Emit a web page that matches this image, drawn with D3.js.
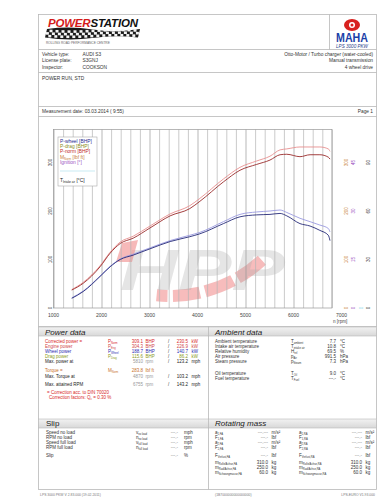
<!DOCTYPE html>
<html>
<head>
<meta charset="utf-8">
<script src="https://cdn.jsdelivr.net/npm/d3@7"></script>
<style>
  html, body { margin: 0; padding: 0; background: #fff; }
  svg { display: block; font-family: "Liberation Sans", Arial, sans-serif; }
</style>
</head>
<body>
<svg id="sheet" width="387" height="500"></svg>
<script>
// dyno curves
const rpm      = [1380, 1620, 1970, 2180, 2390, 2660, 3010, 3430, 3840, 4050, 4540, 4885, 5230, 5510, 5720, 5860, 6135, 6345, 6550, 6725, 6760];
const pNorm    = [38, 53, 87, 115, 136, 148, 169, 194, 211, 226, 266, 290, 303, 313, 326, 328, 332, 332, 332, 328, 323];
const pMot     = [37, 51, 85, 113, 133, 144, 165, 190, 205, 220, 260, 284, 296, 305, 316, 317, 312, 316, 316, 311, 307];
const pWheel2  = [21, 35, 66, 86, 101, 111, 124, 139, 150, 156, 178, 193, 198, 200, 202, 197, 185, 178, 171, 164, 157];
const pWheel   = [20, 34, 65, 85, 100, 109, 122, 137, 147, 153, 174, 188, 192, 193, 195, 190, 174, 169, 160, 150, 139];

const xTicks = [1000, 2000, 3000, 4000, 5000, 6000, 7000];
const yTicks = [0, 100, 200, 300];
const rightAxes = [
  { color: "#c8803a", labels: ["0", "100", "200", "300"] },
  { color: "#9a50c0", labels: ["0", "15", "30", "45"] },
  { color: "#8ad8e8", labels: ["0", "", "", ""] },
  { color: "#333", labels: ["0", "30", "60", "90"] }
];
const legendItems = [
  { text: "P-wheel [BHP]", color: "#2a2a90" },
  { text: "P-drag [BHP]", color: "#8a8a20" },
  { text: "P-norm [BHP]", color: "#c02828" },
  { text: "M", sub: "Norm", tail: " [lbf ft]", color: "#c8803a" },
  { text: "Ignition [°]", color: "#9a50c0" },
  { text: "", color: "#a8e0ee" },
  { text: "T", sub: "Intake air", tail: " [°C]", color: "#222" }
];

const vehicleLeft = [["Vehicle type:", "AUDI S3"], ["License plate:", "S3GNJ"], ["Inspector:", "COOKSON"]];
const vehicleRight = ["Otto-Motor / Turbo charger (water-cooled)", "Manual transmission", "4 wheel drive"];

const powerRows = [
  { label: "Corrected power =", sym: "P", sub: "Norm", v1: "309.1", u1: "BHP", v2: "230.5", u2: "kW", color: "#d82828" },
  { label: "Engine power", sym: "P", sub: "Eng", v1: "304.3", u1: "BHP", v2: "226.9", u2: "kW", color: "#d04848" },
  { label: "Wheel power", sym: "P", sub: "Wheel", v1: "188.7", u1: "BHP", v2: "140.7", u2: "kW", color: "#2a2ab0" },
  { label: "Drag power", sym: "P", sub: "Drag", v1: "115.6", u1: "BHP", v2: "86.2", u2: "kW", color: "#8a9a20" },
  { label: "Max. power at", sym: "", sub: "", v1: "5810", u1: "rpm", v2: "123.2", u2: "mph", color: "#222", gray: true },
  { label: "Torque =", sym: "M", sub: "Norm", v1: "283.8", u1: "lbf ft", v2: "", u2: "", color: "#c8702a" },
  { label: "Max. Torque at", sym: "", sub: "", v1: "4870", u1: "rpm", v2: "103.2", u2: "mph", color: "#222", gray: true },
  { label: "Max. attained RPM", sym: "", sub: "", v1: "6755", u1: "rpm", v2: "143.2", u2: "mph", color: "#222", gray: true }
];
const powerRowY = [341, 346, 351, 356, 361, 370, 376, 384];
const correctionLines = ["= Correction acc. to DIN 70020", "Correction factors: Q", "c", " =   0.30 %"];

const ambientRows = [
  ["Ambient temperature", "T", "ambient", "7.7", "°C"],
  ["Intake air temperature", "T", "intake air", "10.8", "°C"],
  ["Relative humidity", "H", "rel", "69.5", "%"],
  ["Air pressure", "p", "Air", "991.5", "hPa"],
  ["Steam pressure", "p", "Steam", "7.3", "hPa"],
  ["Oil temperature", "T", "Oil", "9.0", "°C"],
  ["Fuel temperature", "T", "Fuel", "---.-", "°C"]
];
const ambientRowY = [341, 346, 351, 356, 361, 373, 378];

const slipRows = [
  ["Speed no load", "v", "no load", "---.-", "mph"],
  ["RPM no load", "n", "no load", "---.-", "rpm"],
  ["Speed full load", "v", "full load", "---.-", "mph"],
  ["RPM full load", "n", "full load", "---.-", "rpm"],
  ["Slip", "", "", "---.-", "%"]
];
const slipRowY = [432, 437, 442, 447, 455];

const rotLeft = [
  ["a", "1,FA", "---.---", "m/s²"], ["F", "1,FA", "---.-", "lbf"], ["a", "2,FA", "---.---", "m/s²"], ["F", "2,FA", "---.-", "lbf"],
  ["F", "Verlust,FA", "---.-", "lbf"], ["m", "Rolle/Achse,FA", "310.0", "kg"], ["m", "Rad/Achse,FA", "250.0", "kg"], ["m", "Schwungmasse,FA", "60.0", "kg"]
];
const rotRight = [
  ["a", "1,RA", "---.---", "m/s²"], ["F", "1,RA", "---.-", "lbf"], ["a", "2,RA", "---.---", "m/s²"], ["F", "2,RA", "---.-", "lbf"],
  ["F", "Verlust,RA", "---.-", "lbf"], ["m", "Rolle/Achse,RA", "310.0", "kg"], ["m", "Rad/Achse,RA", "250.0", "kg"], ["m", "Schwungmasse,RA", "60.0", "kg"]
];
const rotRowY = [432, 437, 442, 447, 455, 462.5, 467.5, 472.5];

const svg = d3.select("#sheet");
const FS = 4.5;
const LINE = "#b8b8b8";

function txt(g, x, y, s, opt = {}) {
  const t = g.append("text").attr("x", x).attr("y", y).attr("dy", "0.35em")
    .attr("font-size", opt.size || FS).attr("fill", opt.color || "#333")
    .attr("text-anchor", opt.anchor || "start");
  if (opt.italic) t.attr("font-style", "italic");
  if (opt.bold) t.attr("font-weight", "bold");
  t.text(s);
  return t;
}
function symTxt(g, x, y, s, sub, opt = {}) {
  const t = txt(g, x, y, s, opt);
  if (sub) t.append("tspan").attr("font-size", (opt.size || FS) * 0.6).attr("dy", "1").text(sub);
  return t;
}

// ---------- frame ----------
const frame = svg.append("g").attr("fill", "none").attr("stroke", LINE).attr("stroke-width", 0.8);
frame.append("rect").attr("x", 38.5).attr("y", 14.5).attr("width", 338).attr("height", 475);
[49.5, 72.5, 106.5, 116.5, 326.5].forEach(y => frame.append("line").attr("x1", 38.5).attr("x2", 376.5).attr("y1", y).attr("y2", y));
frame.append("line").attr("x1", 329.5).attr("x2", 329.5).attr("y1", 14.5).attr("y2", 49.5);

// section bands
const bandGrad = svg.append("defs").append("linearGradient").attr("id", "band").attr("x1", 0).attr("x2", 0).attr("y1", 0).attr("y2", 1);
bandGrad.append("stop").attr("offset", 0).attr("stop-color", "#f2f2f2");
bandGrad.append("stop").attr("offset", 1).attr("stop-color", "#d8d8d8");
[[38.5, 327, 170], [208.5, 327, 168], [38.5, 419, 170], [208.5, 419, 168]].forEach(([x, y, w]) => {
  svg.append("rect").attr("x", x).attr("y", y).attr("width", w).attr("height", 9)
    .attr("fill", "url(#band)").attr("stroke", LINE).attr("stroke-width", 0.6);
});
frame.append("line").attr("x1", 208.5).attr("x2", 208.5).attr("y1", 326.5).attr("y2", 489.5);

// ---------- header logos ----------
// chequered flag strip: dark band with light squares cut in
const flagG = svg.append("g");
flagG.append("path").attr("d", "M47,29 Q70,26 93,29.5 T140,29 L138,37.5 Q115,35 92,38 T45,37.5 Z").attr("fill", "#1a1a1a");
const flag = [];
for (let c = 0; c < 31; c++) {
  for (let r = 0; r < 3; r++) {
    if ((c + r) % 2 === 1) flag.push({ c, r });
  }
}
flagG.selectAll("rect").data(flag).join("rect")
  .attr("x", d => 46.5 + d.c * 3 - d.r * 0.6)
  .attr("y", d => 29.5 + d.r * 2.6 + Math.sin(d.c / 5) * 0.8)
  .attr("width", 3)
  .attr("height", 2.6)
  .attr("fill", "#f4f4f4");

const head = svg.append("g");
const pw = head.append("text").attr("x", 48).attr("y", 27).attr("font-size", 11.5)
  .attr("font-weight", "bold").attr("font-style", "italic").attr("textLength", 90);
pw.append("tspan").attr("fill", "#d41a1a").text("POWER");
pw.append("tspan").attr("fill", "#111").text("STATION");
txt(head, 46, 43, "ROLLING ROAD PERFORMANCE CENTRE", { size: 3.2, color: "#666" });
// MAHA mark
head.append("ellipse").attr("cx", 352).attr("cy", 25).attr("rx", 8).attr("ry", 6).attr("fill", "#d8201e");
head.append("circle").attr("cx", 352).attr("cy", 25).attr("r", 3).attr("fill", "#fff");
head.append("circle").attr("cx", 352).attr("cy", 25).attr("r", 1.5).attr("fill", "#d8201e");
head.append("text").attr("x", 352).attr("y", 42).attr("text-anchor", "middle").attr("font-size", 12)
  .attr("font-weight", "bold").attr("fill", "#1b3fa8").attr("textLength", 32).attr("lengthAdjust", "spacingAndGlyphs").text("MAHA");
txt(head, 352, 46.5, "LPS 3000 PKW", { size: 4.6, italic: true, anchor: "middle", color: "#2a3f8a" });

// vehicle info
vehicleLeft.forEach(([l, v], i) => {
  txt(svg, 42, 54 + i * 6.6, l, { size: 4.8 });
  txt(svg, 82.5, 54 + i * 6.6, v, { size: 4.8 });
});
vehicleRight.forEach((s, i) => txt(svg, 373, 54 + i * 6.6, s, { anchor: "end", size: 4.8 }));
txt(svg, 42, 78, "POWER RUN, STD", { size: 4.8 });
txt(svg, 42, 111.5, "Measurement date: 03.03.2014 ( 9:55)", { size: 4.8 });
txt(svg, 373, 111.5, "Page 1", { anchor: "end", size: 4.8 });

// ---------- chart ----------
const x = d3.scaleLinear().domain([1000, 7000]).range([53.5, 341.5]);
const y = d3.scaleLinear().domain([0, 300]).range([308, 162.5]);
const plotTop = 129.5, plotBottom = y(0), plotLeft = x(1000), plotRight = x(6800);

const chart = svg.append("g");
// watermark
const wm = chart.append("g");
const arc = d3.arc().innerRadius(130).outerRadius(142);
[[2.40, 2.62], [2.66, 2.88], [2.92, 3.12], [3.16, 3.24]].forEach(([a0, a1]) => {
  wm.append("path").attr("d", arc({ startAngle: a0, endAngle: a1 }))
    .attr("transform", "translate(170,160)").attr("fill", "#f4a0a0").attr("opacity", 0.7);
});
wm.append("text").attr("x", 120).attr("y", 290).attr("font-size", 58).attr("font-weight", "bold")
  .attr("font-style", "italic").attr("fill", "#aaa").attr("opacity", 0.3)
  .attr("textLength", 165).attr("lengthAdjust", "spacingAndGlyphs").text("HPP");
wm.append("path").attr("d", "M116,262 L122,243 L138,240 L132,262 Z").attr("fill", "#f08a8a").attr("opacity", 0.6);

const grid = d3.range(1000, 6801, 200);
chart.append("g").selectAll("line").data(grid).join("line")
  .attr("x1", d => x(d) + 0.5).attr("x2", d => x(d) + 0.5)
  .attr("y1", plotTop).attr("y2", plotBottom)
  .attr("stroke", d => d % 1000 === 0 ? "#9a9a9a" : "#b4b4b4").attr("stroke-width", 0.7);
chart.append("rect").attr("x", plotLeft).attr("y", plotTop).attr("width", plotRight - plotLeft)
  .attr("height", plotBottom - plotTop).attr("fill", "none").attr("stroke", "#999").attr("stroke-width", 0.7);

// x labels
chart.append("g").selectAll("text").data(xTicks).join("text")
  .attr("x", d => x(d)).attr("y", 315).attr("dy", "0.35em").attr("text-anchor", "middle")
  .attr("font-size", 5).attr("fill", "#444").text(d => d);
txt(chart, 333, 321, "n [rpm]", { size: 4.6, color: "#444" });

// left y labels (rotated)
chart.append("g").selectAll("text").data(yTicks).join("text")
  .attr("transform", d => `translate(50,${y(d)}) rotate(-90)`).attr("dy", "0.35em")
  .attr("text-anchor", "middle").attr("font-size", 4.6).attr("fill", "#444").text(d => d);
// right y labels
rightAxes.forEach((ax, k) => {
  chart.append("g").selectAll("text").data(yTicks).join("text")
    .attr("transform", d => `translate(${346 + k * 7.6},${y(d)}) rotate(-90)`).attr("dy", "0.35em")
    .attr("text-anchor", "middle").attr("font-size", 4.6).attr("fill", ax.color).text((d, i) => ax.labels[i]);
});

// curves
const line = d3.line().x(d => x(d[0])).y(d => y(d[1])).curve(d3.curveMonotoneX);
const series = [
  { v: pNorm, color: "#e89090" },
  { v: pMot, color: "#9a2a2a" },
  { v: pWheel2, color: "#9a9ae0" },
  { v: pWheel, color: "#262a78" }
];
series.forEach(s => {
  chart.append("path").datum(rpm.map((r, i) => [r, s.v[i]]))
    .attr("d", line).attr("fill", "none").attr("stroke", s.color).attr("stroke-width", 0.9);
});

// legend
const lg = chart.append("g");
lg.append("rect").attr("x", 58).attr("y", 137).attr("width", 39).attr("height", 49)
  .attr("fill", "#fff").attr("stroke", "#aaa").attr("stroke-width", 0.6);
const legendY = [141, 146.2, 151.4, 157, 162.6, 171, 180];
legendItems.forEach((it, i) => {
  if (!it.text) {
    lg.append("line").attr("x1", 60).attr("x2", 95).attr("y1", legendY[i]).attr("y2", legendY[i])
      .attr("stroke", it.color).attr("stroke-width", 1.2).attr("opacity", 0.6);
    return;
  }
  const t = symTxt(lg, 60, legendY[i], it.text, it.sub, { color: it.color, size: 4.9 });
  if (it.tail) t.append("tspan").attr("dy", "-1").attr("font-size", 4.9).text(it.tail);
});

// ---------- Power data ----------
txt(svg, 45, 332, "Power data", { size: 8, italic: true, color: "#222" });
powerRows.forEach((r, i) => {
  const yy = powerRowY[i];
  txt(svg, 45, yy, r.label, { color: r.color });
  if (r.sym) symTxt(svg, 108, yy, r.sym, r.sub, { color: r.color });
  txt(svg, 143, yy, r.v1, { anchor: "end", color: r.gray ? "#999" : r.color });
  txt(svg, 145.5, yy, r.u1, { color: r.gray ? "#999" : r.color });
  if (r.v2) {
    txt(svg, 168, yy, "/", { color: "#333" });
    txt(svg, 188, yy, r.v2, { anchor: "end", color: r.gray ? "#222" : r.color });
    txt(svg, 191.5, yy, r.u2, { color: r.gray ? "#222" : r.color });
  }
});
txt(svg, 47, 392, correctionLines[0], { color: "#d82828" });
const cf = txt(svg, 49, 397, correctionLines[1], { color: "#d82828" });
cf.append("tspan").attr("font-size", 3).attr("dy", 1).text(correctionLines[2]);
cf.append("tspan").attr("dy", -1).text(correctionLines[3]);

// ---------- Ambient data ----------
txt(svg, 215, 332, "Ambient data", { size: 8, italic: true, color: "#222" });
ambientRows.forEach((r, i) => {
  const yy = ambientRowY[i];
  txt(svg, 215, yy, r[0]);
  symTxt(svg, 291, yy, r[1], r[2]);
  txt(svg, 336, yy, r[3], { anchor: "end" });
  txt(svg, 340, yy, r[4]);
});

// ---------- Slip ----------
txt(svg, 46, 423.5, "Slip", { size: 8, color: "#222" });
slipRows.forEach((r, i) => {
  const yy = slipRowY[i];
  txt(svg, 46, yy, r[0]);
  if (r[1]) symTxt(svg, 136, yy, r[1], r[2]);
  txt(svg, 178, yy, r[3], { anchor: "end", color: "#888" });
  txt(svg, 184, yy, r[4]);
});

// ---------- Rotating mass ----------
txt(svg, 215, 423.5, "Rotating mass", { size: 8, italic: true, color: "#222" });
[[rotLeft, 215, 268, 271.5], [rotRight, 299, 362, 365.5]].forEach(([rows, xs, xv, xu]) => {
  rows.forEach((r, i) => {
    const yy = rotRowY[i];
    symTxt(svg, xs, yy, r[0], r[1]);
    txt(svg, xv, yy, r[2], { anchor: "end", color: r[2].startsWith("-") ? "#888" : "#333" });
    txt(svg, xu, yy, r[3]);
  });
});

// footer
txt(svg, 40, 494.5, "LPS 3000 PKW V 2.83.000 (19.02.2011)", { size: 3.4, color: "#777" });
txt(svg, 215, 494.5, "(1B7000000000000000)", { size: 3.4, color: "#777" });
txt(svg, 375, 494.5, "LPS-EURO V1.93.000", { size: 3.4, color: "#777", anchor: "end" });
</script>
</body>
</html>
